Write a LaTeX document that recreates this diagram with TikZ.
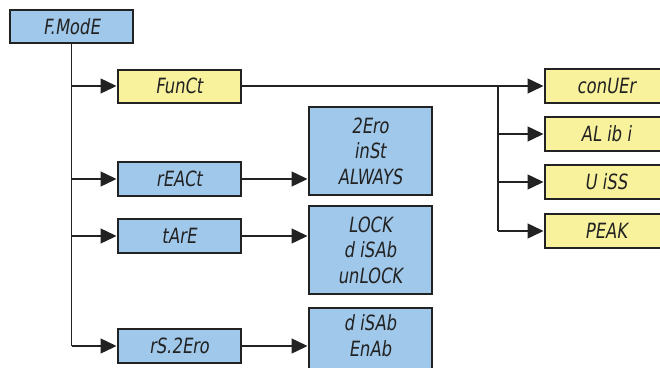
\documentclass[tikz,border=0pt]{standalone}
\usepackage{fontspec}
\setmainfont{DejaVu Sans}[FakeSlant=0.15,FakeStretch=0.78]
\usetikzlibrary{arrows.meta}
\definecolor{menublue}{HTML}{A0C8EA}
\definecolor{menuyellow}{HTML}{F8F29C}
\definecolor{ink}{HTML}{222222}
\tikzset{
  menubox/.style={draw=ink, line width=2pt, rectangle, minimum width=123pt,
    inner sep=0pt, font=\fontsize{21}{25.5}\selectfont, text=ink, align=center},
  bluebox/.style={menubox, fill=menublue},
  yellowbox/.style={menubox, fill=menuyellow},
  link/.style={draw=ink, line width=1.4pt},
  arr/.style={link, -{Triangle[length=16pt,width=15pt]}}
}
\begin{document}
\begin{tikzpicture}[x=1pt,y=-1pt]
\clip (0,0) rectangle (660,367);
\fill[white] (0,0) rectangle (660,367);

% root and first-level menus
\node[bluebox, minimum height=33pt] (mode) at (71.5,26.5) {F.ModE};
\node[yellowbox, minimum height=33pt] (funct) at (179,86) {FunCt};
\node[bluebox, minimum height=34pt] (react) at (179,179) {rEACt};
\node[bluebox, minimum height=34pt] (tare) at (179,236) {tArE};
\node[bluebox, minimum height=34pt] (rs) at (179,346) {rS.2Ero};

% option lists
\node[bluebox, minimum height=88pt] (reactopt) at (370,151) {2Ero\\inSt\\ALWAYS};
\node[bluebox, minimum height=88pt] (tareopt) at (370,250) {LOCK\\d iSAb\\unLOCK};
\node[bluebox, minimum height=88pt] (rsopt) at (370,352) {d iSAb\\EnAb\\\strut};

% function choices
\node[yellowbox, minimum height=34pt] (conv) at (606,86) {conUEr};
\node[yellowbox, minimum height=34pt] (alibi) at (606,134) {AL ib i};
\node[yellowbox, minimum height=34pt] (viss) at (606,182) {U iSS};
\node[yellowbox, minimum height=34pt] (peak) at (606,231) {PEAK};

% trunk from the root menu
\draw[link] (mode.south) -- (mode.south |- rs.west);
\draw[arr] (mode.south |- funct.west) -- (funct.west);
\draw[arr] (mode.south |- react.west) -- (react.west);
\draw[arr] (mode.south |- tare.west) -- (tare.west);
\draw[arr] (mode.south |- rs.west) -- (rs.west);

% first-level menus to their options
\draw[arr] (react.east) -- (react.east -| reactopt.west);
\draw[arr] (tare.east) -- (tare.east -| tareopt.west);
\draw[arr] (rs.east) -- (rs.east -| rsopt.west);

% function branch
\coordinate (fj) at (498,86);
\draw[arr] (funct.east) -- (conv.west);
\draw[link] (fj) -- (fj |- peak.west);
\draw[arr] (fj |- alibi.west) -- (alibi.west);
\draw[arr] (fj |- viss.west) -- (viss.west);
\draw[arr] (fj |- peak.west) -- (peak.west);
\end{tikzpicture}
\end{document}
